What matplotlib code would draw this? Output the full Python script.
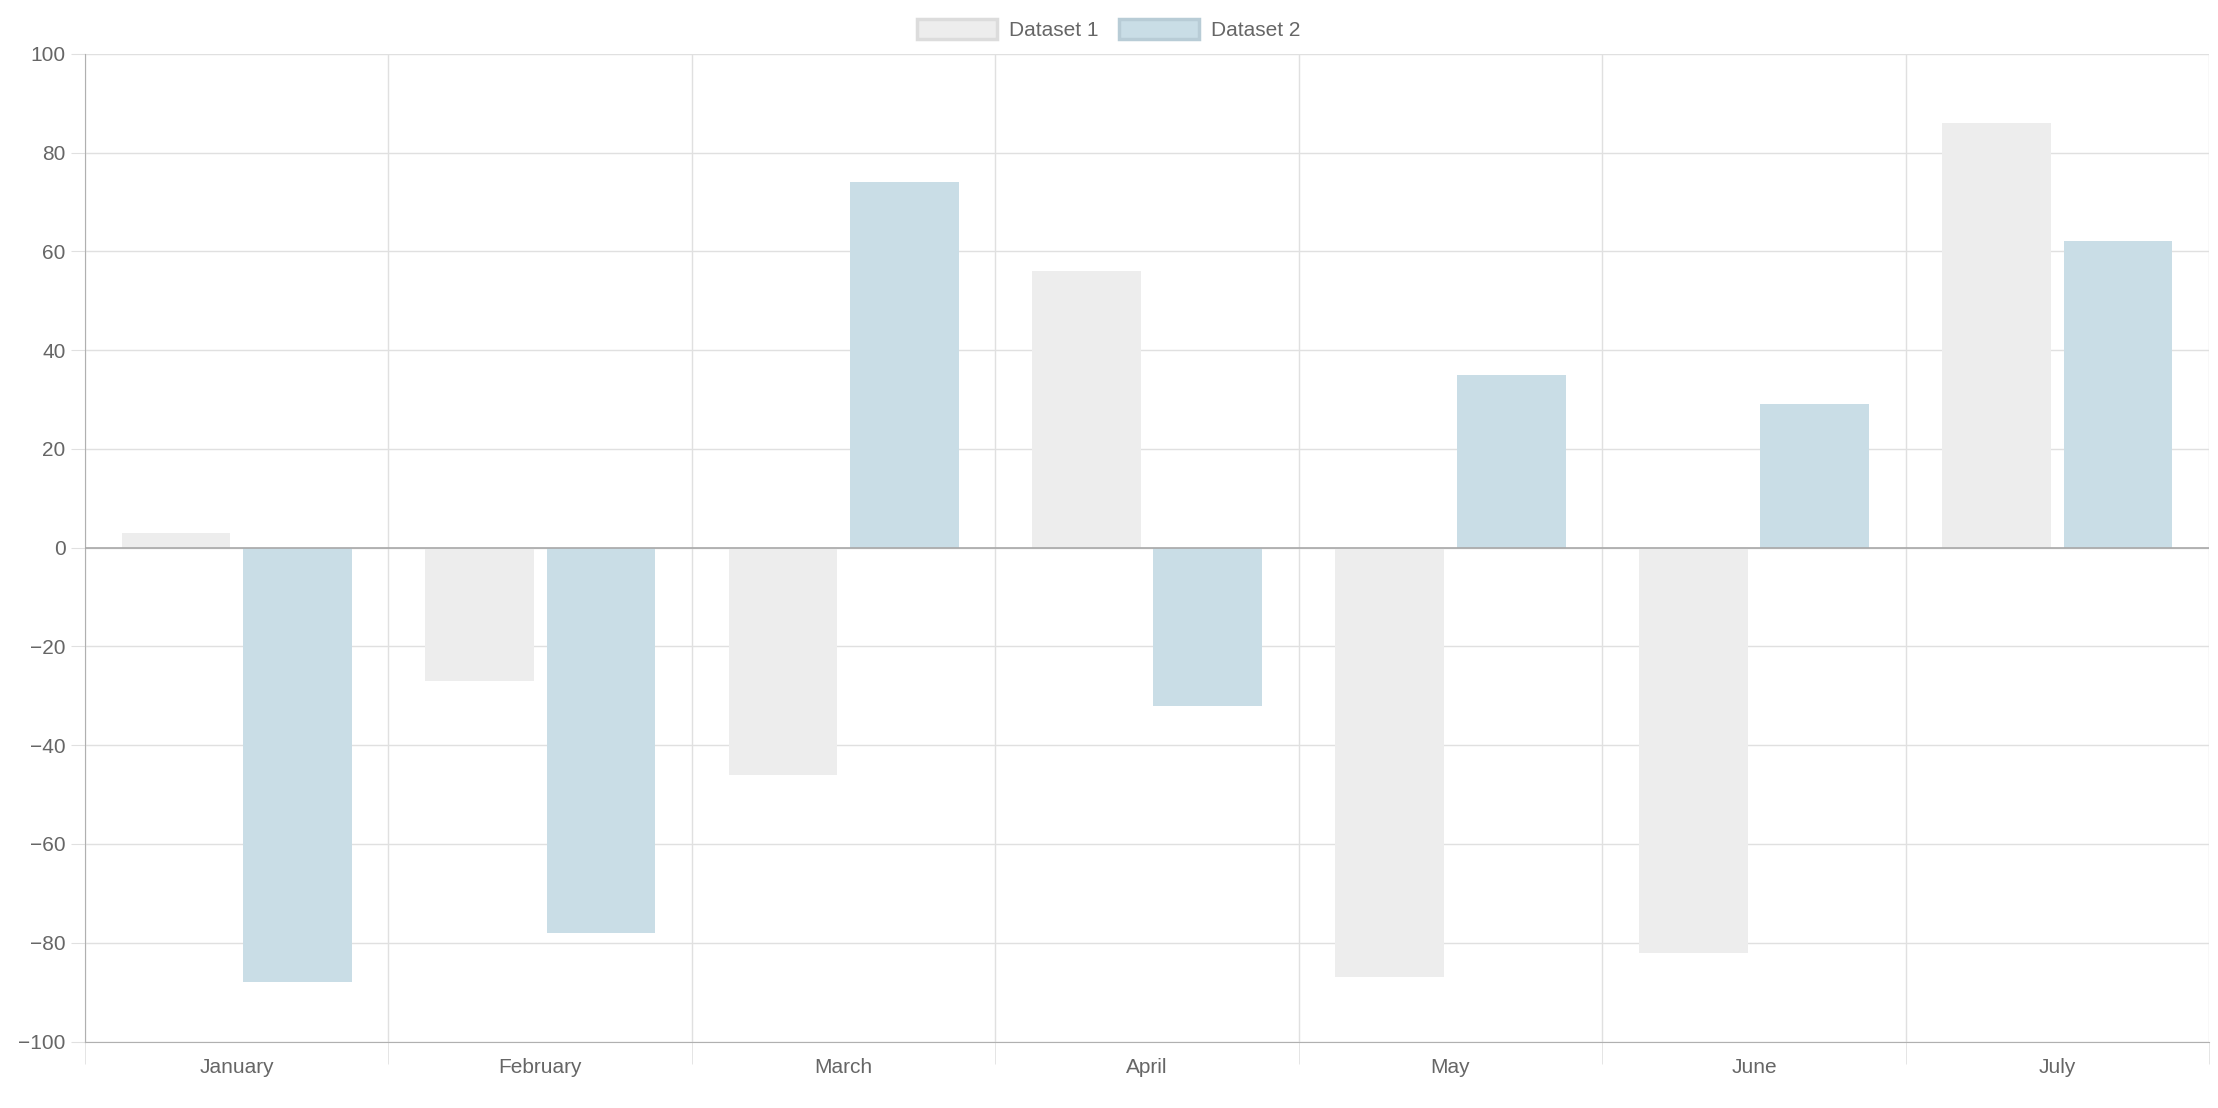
import matplotlib.pyplot as plt
import numpy as np
from matplotlib.patches import Patch

plt.rcParams['font.family'] = ['Liberation Sans', 'DejaVu Sans']

months = ['January', 'February', 'March', 'April', 'May', 'June', 'July']
dataset1 = [3, -27, -46, 56, -87, -82, 86]
dataset2 = [-88, -78, 74, -32, 35, 29, 62]

fig = plt.figure(figsize=(22.18, 11.08), dpi=100)
ax = fig.add_axes([0.0383, 0.06, 0.9577, 0.8915])

x = np.arange(len(months))
c1 = '#ededed'
c2 = '#c9dde6'
ax.bar(x - 0.2, dataset1, width=0.358, color=c1, zorder=2)
ax.bar(x + 0.2, dataset2, width=0.358, color=c2, zorder=2)

ax.set_xlim(-0.5, len(months) - 0.5)
ax.set_ylim(-100, 100)
ax.set_yticks(range(-100, 101, 20))
ax.set_xticks(x)
ax.set_xticklabels(months)
ax.set_xticks(np.arange(-0.5, len(months)), minor=True)

ax.grid(axis='y', color='#e0e0e0', linewidth=1, zorder=0)
ax.grid(axis='x', which='minor', color='#e0e0e0', linewidth=1, zorder=0)
ax.axhline(0, color='#a8a8a8', linewidth=1.2, zorder=3)

for s in ['top', 'right']:
    ax.spines[s].set_visible(False)
for s in ['left', 'bottom']:
    ax.spines[s].set_color('#b0b0b0')

ax.tick_params(axis='x', which='major', length=0, pad=12, labelsize=15, labelcolor='#666666')
ax.tick_params(axis='x', which='minor', length=16, color='#e0e0e0')
ax.tick_params(axis='y', length=10, color='#e0e0e0', labelsize=15, labelcolor='#666666', pad=4)

handles = [Patch(facecolor=c1, edgecolor='#dcdcdc', linewidth=2.5, label='Dataset 1'),
           Patch(facecolor=c2, edgecolor='#b8ccd6', linewidth=2.5, label='Dataset 2')]
fig.legend(handles=handles, loc='upper center', bbox_to_anchor=(0.5, 1.0), ncol=2,
           frameon=False, fontsize=15, labelcolor='#666666', handlelength=3.8,
           handleheight=1.1, columnspacing=1.0, handletextpad=0.6)

fig.savefig('out.png')
